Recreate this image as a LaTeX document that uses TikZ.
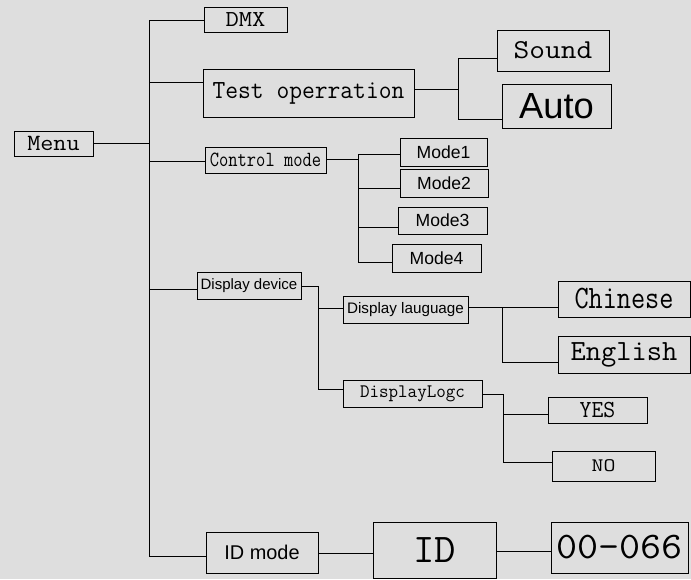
\documentclass[tikz,border=0pt]{standalone}
\usepackage{fontspec}
\usepackage{tikz}
\newfontfamily\sansf{Liberation Sans}
\newcommand\monof[2]{\fontspec{Latin Modern Mono}[FakeStretch=#2]\fontsize{#1}{#1}\selectfont}
\newcommand\sansz[1]{\sansf\fontsize{#1}{#1}\selectfont}
\definecolor{scan}{RGB}{222,222,222}
\tikzset{
  box/.style={draw, line width=0.6pt, inner sep=0pt},
  sz/.style 2 args={minimum width=#1*0.03cm, minimum height=#2*0.03cm},
}

\begin{document}
\begin{tikzpicture}[x=0.03cm, y=-0.03cm, line width=0.6pt]
        \fill[scan] (0,0) rectangle (691,579);

        \node[box, sz={79}{25}, font=\monof{19.9}{1.09}] (menu) at (53.5,143.5) {Menu};
        \node[box, sz={83}{25}, font=\monof{19.5}{1.13}] (dmx) at (245.5,19.5) {DMX};
        \node[box, sz={211}{48}, font=\monof{22.3}{0.95}] (test) at (308.5,93) {Test operration};
        \node[box, sz={112}{41}, font=\monof{23.3}{1.12}] (sound) at (553,50.5) {Sound};
        \node[box, sz={109}{44}, font=\sansz{31}] (auto) at (556.5,106) {Auto};
        \node[box, sz={121}{26}, font=\monof{18.5}{0.83}] (ctrl) at (265.5,160) {Control mode};
        \node[box, sz={87}{28}, font=\sansz{15}] (mode1) at (443.5,152) {Mode1};
        \node[box, sz={88}{28}, font=\sansz{15}] (mode2) at (444,183) {Mode2};
        \node[box, sz={89}{27}, font=\sansz{15}] (mode3) at (442.5,220.5) {Mode3};
        \node[box, sz={89}{28}, font=\sansz{15}] (mode4) at (436.5,258) {Mode4};
        \node[box, sz={104}{27}, font=\sansz{12.8}] (disp) at (249,285.5) {Display device};
        \node[box, sz={125}{27}, font=\sansz{13}] (lang) at (405.5,309.5) {Display lauguage};
        \node[box, sz={132}{36}, font=\monof{27.9}{0.84}] (chinese) at (624,299) {Chinese};
        \node[box, sz={132}{37}, font=\monof{25}{1.01}] (english) at (624,354.5) {English};
        \node[box, sz={139}{27}, font=\monof{16.3}{0.97}] (logo) at (412.5,393.5) {DisplayLogc};
        \node[box, sz={99}{26}, font=\monof{20.9}{0.94}] (yes) at (597.5,410) {YES};
        \node[box, sz={103}{30}, font=\monof{16.3}{1.21}] (no) at (603.5,466) {NO};
        \node[box, sz={112}{41}, font=\sansz{17}] (idmode) at (262,552.5) {ID mode};
        \node[box, sz={123}{56}, font=\monof{34.8}{1.02}] (id) at (434.5,550) {ID};
        \node[box, sz={137}{51}, font=\monof{32}{1.09}] (num) at (619.5,547.5) {00-066};

        \coordinate (top) at (149,20);
        \coordinate (bot) at (149,556);
        \coordinate (jt) at (149,82);
        \coordinate (jc) at (149,161);
        \coordinate (jd) at (149,289);
        \draw (top) -- (bot);
        \draw (menu.east) -- (menu.east -| top);
        \draw (top) -- (top -| dmx.west);
        \draw (jt) -- (jt -| test.west);
        \draw (jc) -- (jc -| ctrl.west);
        \draw (jd) -- (jd -| disp.west);
        \draw (bot) -- (bot -| idmode.west);

        \coordinate (t0) at (458,89);
        \coordinate (t1) at (458,58);
        \coordinate (t2) at (458,119);
        \draw (t0 -| test.east) -- (t0);
        \draw (t1 -| sound.west) -- (t1) -- (t2) -- (t2 -| auto.west);

        \coordinate (c0) at (358,159);
        \coordinate (c1) at (358,154);
        \coordinate (c2) at (358,188);
        \coordinate (c3) at (358,227);
        \coordinate (c4) at (358,262);
        \draw (c0 -| ctrl.east) -- (c0);
        \draw (c1 -| mode1.west) -- (c1) -- (c4) -- (c4 -| mode4.west);
        \draw (c2) -- (c2 -| mode2.west);
        \draw (c3) -- (c3 -| mode3.west);

        \coordinate (d0) at (318,286);
        \coordinate (d1) at (318,308);
        \coordinate (d2) at (318,389);
        \draw (d0 -| disp.east) -- (d0) -- (d2) -- (d2 -| logo.west);
        \draw (d1) -- (d1 -| lang.west);

        \coordinate (l0) at (502,307);
        \coordinate (l1) at (502,362);
        \draw (l0 -| lang.east) -- (l0 -| chinese.west);
        \draw (l0) -- (l1) -- (l1 -| english.west);

        \coordinate (g0) at (503,394);
        \coordinate (g1) at (503,414);
        \coordinate (g2) at (503,462);
        \draw (g0 -| logo.east) -- (g0) -- (g2) -- (g2 -| no.west);
        \draw (g1) -- (g1 -| yes.west);

        \coordinate (i0) at (320,553);
        \coordinate (i1) at (500,551);
        \draw (i0 -| idmode.east) -- (i0 -| id.west);
        \draw (i1 -| id.east) -- (i1 -| num.west);
\end{tikzpicture}
\end{document}
